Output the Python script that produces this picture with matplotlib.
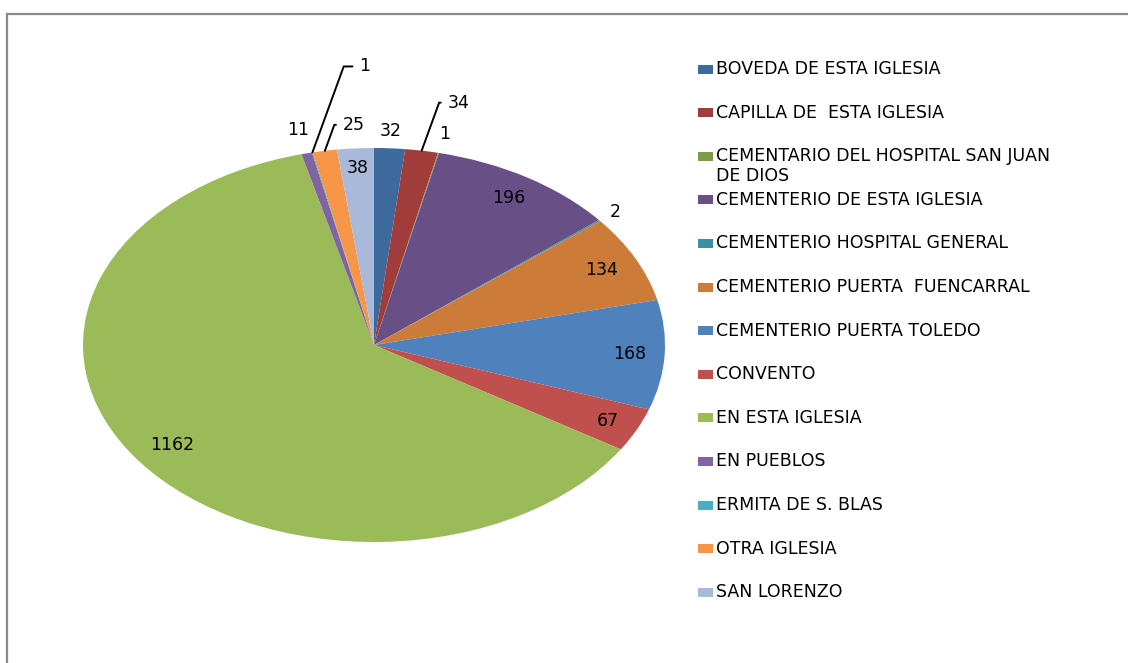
import numpy as np
import matplotlib
matplotlib.use('Agg')
import matplotlib.pyplot as plt
from matplotlib.patches import Rectangle

labels = ["BOVEDA DE ESTA IGLESIA",
          "CAPILLA DE  ESTA IGLESIA",
          "CEMENTARIO DEL HOSPITAL SAN JUAN\nDE DIOS",
          "CEMENTERIO DE ESTA IGLESIA",
          "CEMENTERIO HOSPITAL GENERAL",
          "CEMENTERIO PUERTA  FUENCARRAL",
          "CEMENTERIO PUERTA TOLEDO",
          "CONVENTO",
          "EN ESTA IGLESIA",
          "EN PUEBLOS",
          "ERMITA DE S. BLAS",
          "OTRA IGLESIA",
          "SAN LORENZO"]
values = [32, 34, 1, 196, 2, 134, 168, 67, 1162, 11, 1, 25, 38]
colors = ["#3d6a9c", "#a03c3a", "#7f9b48", "#684f86", "#3c8ea5", "#cc7b38",
          "#4f81bd", "#c0504d", "#9bbb59", "#8064a2", "#4bacc6", "#f79646", "#a9b9d9"]

# label placement: radius (fraction of pie) or leader-line offset in pixels
label_r = [1.09, None, 1.10, 0.88, 1.07, 0.87, 0.88, 0.89, 0.86, 1.12, None, None, 0.90]
leader = {1: (26, 48), 10: (47, 86), 11: (18, 26)}

W, H = 1128, 663
fig = plt.figure(figsize=(W / 100, H / 100), dpi=100)

# outer chart frame
fig.patches.append(Rectangle((7 / W, -0.1), 2, 1 - 14 / H + 0.1, transform=fig.transFigure,
                             fill=False, edgecolor="#888888", lw=1.6))

cx, cy, rx, ry = 374, 345, 291, 197
ax = fig.add_axes([(cx - rx) / W, (H - cy - ry) / H, 2 * rx / W, 2 * ry / H])
wedges, _ = ax.pie(values, colors=colors, startangle=90, counterclock=False,
                   wedgeprops=dict(linewidth=0))
ax.set_aspect('auto')
ax.set_xlim(-1, 1)
ax.set_ylim(-1, 1)
ax.axis('off')

fs = 12.5
for i, w in enumerate(wedges):
    a = np.deg2rad((w.theta1 + w.theta2) / 2)
    if i in leader:
        ax.annotate(str(values[i]), xy=(np.cos(a), np.sin(a)), xytext=leader[i],
                    textcoords='offset pixels', ha='left', va='center', fontsize=fs,
                    arrowprops=dict(arrowstyle='-', color='black', lw=1.4, shrinkA=3, shrinkB=0,
                                    relpos=(0, 0.5),
                                    connectionstyle="angle,angleA=0,angleB=70,rad=0"))
    else:
        r = label_r[i]
        ax.text(r * np.cos(a), r * np.sin(a), str(values[i]), ha='center', va='center',
                fontsize=fs, color='black')

# legend
for i, lab in enumerate(labels):
    yc = 69 + 43.6 * i
    fig.patches.append(Rectangle((698 / W, 1 - (yc + 4.5) / H), 15 / W, 9 / H,
                                 transform=fig.transFigure, facecolor=colors[i],
                                 edgecolor='none'))
    fig.text(716 / W, 1 - (yc - 9) / H, lab, ha='left', va='top', fontsize=fs,
             color='black', linespacing=1.15)

fig.savefig("out.png", dpi=100)
